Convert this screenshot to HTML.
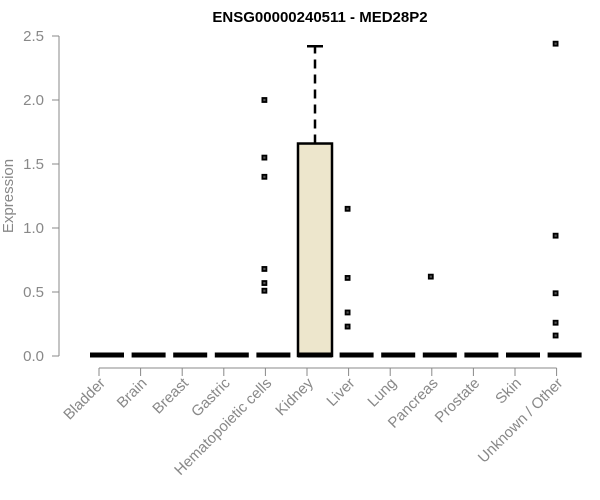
<!DOCTYPE html>
<html><head><meta charset="utf-8"><style>
body{margin:0;background:#fff;}
svg{display:block;font-family:"Liberation Sans",Arial,sans-serif;}
</style></head><body>
<svg id="c" width="600" height="500" viewBox="0 0 600 500">
<text x="320" y="22" text-anchor="middle" font-size="15" font-weight="bold" fill="#000">ENSG00000240511 - MED28P2</text>
<text transform="translate(13,196) rotate(-90)" text-anchor="middle" font-size="15" fill="#888">Expression</text>
<g id="ax"></g><g id="marks"></g>
</svg>
<script>
const categories=["Bladder","Brain","Breast","Gastric","Hematopoietic cells","Kidney","Liver","Lung","Pancreas","Prostate","Skin","Unknown / Other"];
const q1=[0,0,0,0,0,0,0,0,0,0,0,0];
const q3=[0,0,0,0,0,1.66,0,0,0,0,0,0];
const med=[0,0,0,0,0,0,0,0,0,0,0,0];
const whiskerHi=[0,0,0,0,0,2.42,0,0,0,0,0,0];
const outliers=[[],[],[],[],[2.0,1.55,1.40,0.68,0.57,0.51],[],[1.15,0.61,0.34,0.23],[],[0.62],[],[],[2.44,0.94,0.49,0.26,0.16]];
const yTicks=[0,0.5,1,1.5,2,2.5];
const yTickLabels=["0.0","0.5","1.0","1.5","2.0","2.5"];
const NS="http://www.w3.org/2000/svg";
const y=v=>356-v*128;
const x=i=>99+i*41.6;
function mk(t,a,p){const e=document.createElementNS(NS,t);for(const k in a)e.setAttribute(k,a[k]);(p||document.getElementById('marks')).appendChild(e);return e;}
const ax=document.getElementById('ax');
let e=mk('line',{x1:59,y1:y(0),x2:59,y2:y(2.5),stroke:'#888'},ax);


yTicks.forEach((v,i)=>{
 let t=mk('line',{x1:52,y1:y(v),x2:59,y2:y(v),stroke:'#888'},ax);
 
 
 let l=mk('text',{x:44,y:y(v)+5,'text-anchor':'end','font-size':15,fill:'#888'},ax);
 l.textContent=yTickLabels[i];
 
 
});
e=mk('line',{x1:x(0),y1:368,x2:x(11),y2:368,stroke:'#888'},ax);


categories.forEach((c,i)=>{
 let t=mk('line',{x1:x(i),y1:368,x2:x(i),y2:376,stroke:'#888'},ax);
 
 
 let l=mk('text',{transform:`translate(${x(i)+7},${384}) rotate(-45)`,'text-anchor':'end','font-size':15,fill:'#888'},ax);
 l.textContent=c;
 
 
});
const m=document.getElementById('marks');
categories.forEach((c,i)=>{
 const cx=x(i)+8,w=34;
 if(whiskerHi[i]>q3[i]){
  let wl=mk('line',{x1:cx,y1:y(q3[i]),x2:cx,y2:y(whiskerHi[i]),stroke:'#000','stroke-width':2.5,'stroke-dasharray':'9,6'},m);
  
  
  let cap=mk('line',{x1:cx-8,y1:y(whiskerHi[i]),x2:cx+8,y2:y(whiskerHi[i]),stroke:'#000','stroke-width':2.5},m);
  
  
 }
 if(q3[i]>q1[i]){
  let b=mk('rect',{x:cx-w/2,y:y(q3[i]),width:w,height:y(q1[i])-y(q3[i]),fill:'#ede6cc',stroke:'#000','stroke-width':2.5},m);
  
  
 }
 let md=mk('line',{x1:cx-w/2,y1:y(med[i])-1,x2:cx+w/2,y2:y(med[i])-1,stroke:'#000','stroke-width':5},m);
 
 
 outliers[i].forEach(v=>{
  let p=mk('rect',{x:x(i)-3,y:y(v)-2,width:4,height:4,fill:'#555',stroke:'#000','stroke-width':1.8},m);
  
  
 });
});
</script>
</body></html>
